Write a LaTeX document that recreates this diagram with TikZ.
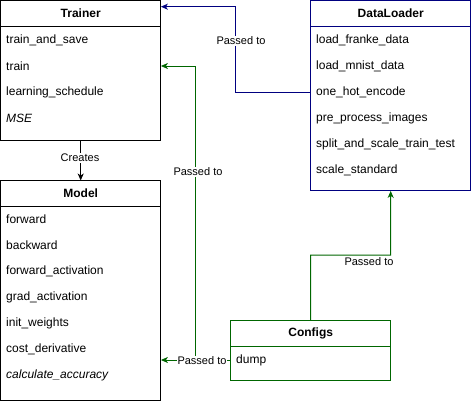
\documentclass[tikz,border=0pt]{standalone}
\usepackage{fontspec}
\setmainfont{Liberation Sans}
\usetikzlibrary{arrows.meta}
\definecolor{dnavy}{HTML}{000080}
\definecolor{dgreen}{HTML}{006600}
\begin{document}
\begin{tikzpicture}[x=1pt,y=-1pt,
  box/.style={minimum width=160pt, inner sep=0pt, anchor=north west},
  hdr/.style={box, minimum height=26pt, font=\bfseries\fontsize{12}{14}\selectfont},
  item/.style={anchor=west, inner sep=0pt, font=\fontsize{12}{14}\selectfont},
  lbl/.style={fill=white, inner sep=1pt, font=\fontsize{11}{13}\selectfont},
  conn/.style={line width=1pt, -{Stealth[length=7pt,width=6pt,inset=2pt]}},
  frame/.style={line width=1pt},
]
\useasboundingbox (0,0) rectangle (471,402);
% Trainer
\node[hdr] (trh) at (0.5,0.5) {Trainer};
\node[box, minimum height=114pt] (trb) at (0.5,26.5) {};
\draw[frame] (trh.north west) rectangle (trb.south east) (trb.north west) -- (trb.north east);
\node[item] (tr1) at (6,40) {train\_and\_save};
\node[item] (tr2) at (6,66) {train};
\node[item] (tr3) at (6,92) {learning\_schedule};
\node[item] (tr4) at (6,118) {\itshape MSE};
% Model
\node[hdr] (moh) at (0.5,180.5) {Model};
\node[box, minimum height=194pt] (mob) at (0.5,206.5) {};
\draw[frame] (moh.north west) rectangle (mob.south east) (mob.north west) -- (mob.north east);
\node[item] (mo1) at (6,219) {forward};
\node[item] (mo2) at (6,245) {backward};
\node[item] (mo3) at (6,271) {forward\_activation};
\node[item] (mo4) at (6,297) {grad\_activation};
\node[item] (mo5) at (6,323) {init\_weights};
\node[item] (mo6) at (6,349) {cost\_derivative};
\node[item] (mo7) at (6,375) {\itshape calculate\_accuracy};
% DataLoader
\node[hdr] (dlh) at (310.5,0.5) {DataLoader};
\node[box, minimum height=164pt] (dlb) at (310.5,26.5) {};
\draw[frame, draw=dnavy] (dlh.north west) rectangle (dlb.south east) (dlb.north west) -- (dlb.north east);
\node[item] (dl1) at (316,40) {load\_franke\_data};
\node[item] (dl2) at (316,66) {load\_mnist\_data};
\node[item] (dl3) at (316,92) {one\_hot\_encode};
\node[item] (dl4) at (316,118) {pre\_process\_images};
\node[item] (dl5) at (316,144) {split\_and\_scale\_train\_test};
\node[item] (dl6) at (316,170) {scale\_standard};
% Configs
\node[hdr] (cfh) at (230.5,320.5) {Configs};
\node[box, minimum height=34pt] (cfb) at (230.5,346.5) {};
\draw[frame, draw=dgreen] (cfh.north west) rectangle (cfb.south east) (cfb.north west) -- (cfb.north east);
\node[item] (cf1) at (236,360) {dump};
% connectors
\draw[conn] (trb.south) -- (moh.north);
\node[lbl] (lc) at (80,158) {Creates};
\draw[conn, dnavy] (dlb.west |- dl3) -- ++(-75,0) |- ([yshift=7pt]trh.east);
\node[lbl] (l1) at (241,41) {Passed to};
\draw[conn, dgreen] (cfb.west |- cf1) -- ++(-35,0) |- (trb.east |- tr2);
\node[lbl] (l2) at (198,172) {Passed to};
\draw[conn, dgreen] (cfb.west |- cf1) -- (mob.east |- cf1);
\node[lbl] (l3) at (202,361) {Passed to};
\coordinate (k) at (390.5,255);
\draw[conn, dgreen] (cfh.north) |- (k) -- (dlb.south);
\node[lbl] (l4) at (369,262) {Passed to};
\end{tikzpicture}
\end{document}
